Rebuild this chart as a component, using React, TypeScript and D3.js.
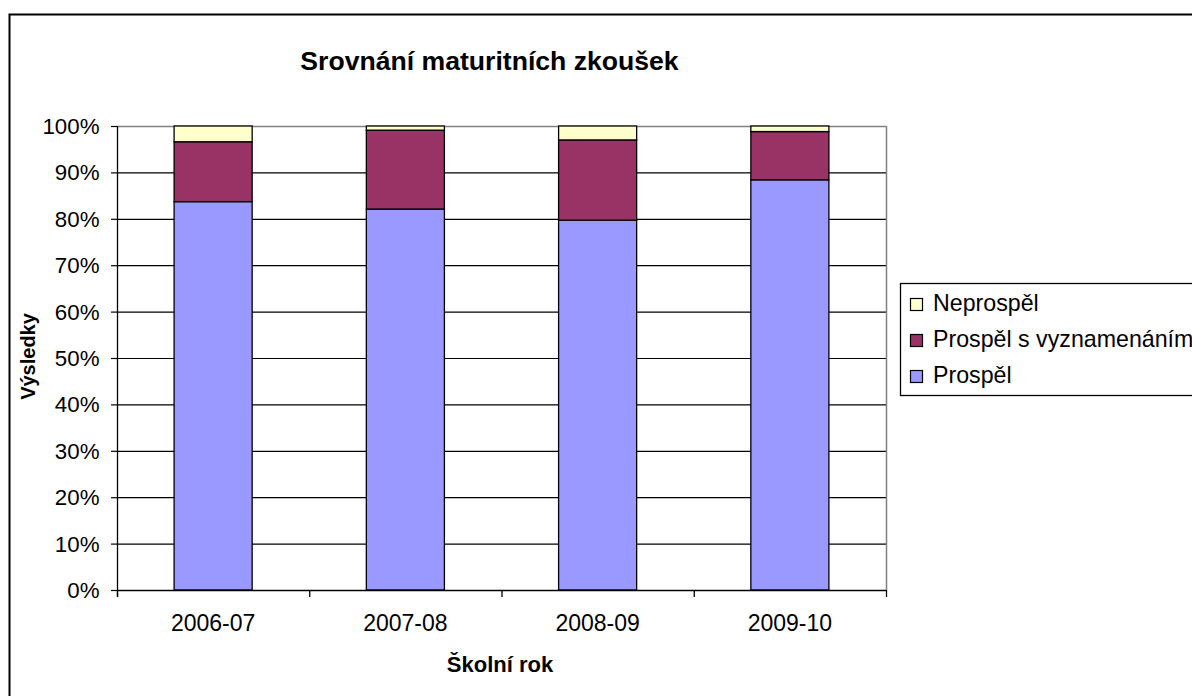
import React from "react";
import * as d3 from "d3";

const categories = ["2006-07", "2007-08", "2008-09", "2009-10"];
const prospel = [83.7, 82.1, 79.7, 88.4];
const vyznamenani = [12.9, 17.0, 17.3, 10.4];
const neprospel = [3.4, 0.9, 3.0, 1.2];
const yTicks = [0, 10, 20, 30, 40, 50, 60, 70, 80, 90, 100];
const seriesNames = ["Prospěl", "Prospěl s vyznamenáním", "Neprospěl"];
const seriesColors = ["#9999ff", "#993366", "#ffffcc"];

export default function App() {
  const W = 1192, H = 696;
  const left = 117, right = 886, top = 126, bottom = 590;
  const font = "'Liberation Sans', Arial, sans-serif";
  const x = d3.scaleBand().domain(categories).range([left, right]).paddingInner(0.594).paddingOuter(0.297);
  const y = d3.scaleLinear().domain([0, 100]).range([bottom, top]);
  const rows = categories.map((c, i) => ({ cat: c, p: prospel[i], v: vyznamenani[i], n: neprospel[i] }));
  const stack = d3.stack<any>().keys(["p", "v", "n"])(rows);
  const legendOrder = [2, 1, 0];
  return (
    <svg width={W} height={H} style={{ position: "absolute", left: 0, top: 0, background: "#fff" }}>
      <rect x={9.5} y={14.5} width={W + 20} height={H + 20} fill="#fff" stroke="#000" strokeWidth={2} />
      <text x={489.5} y={70} textAnchor="middle" fontFamily={font} fontWeight="bold" fontSize={26.6}>Srovnání maturitních zkoušek</text>
      {yTicks.map((t) => (
        <g key={t}>
          {t > 0 && t < 100 && <line x1={left} x2={right} y1={y(t) + 0.5} y2={y(t) + 0.5} stroke="#000" strokeWidth={1.2} />}
          <line x1={left - 6} x2={left} y1={y(t) + 0.5} y2={y(t) + 0.5} stroke="#000" strokeWidth={1.2} />
          <text x={99.5} y={y(t) + 8} textAnchor="end" fontFamily={font} fontSize={22.3}>{t}%</text>
        </g>
      ))}
      <line x1={left} x2={right} y1={top + 0.5} y2={top + 0.5} stroke="#808080" strokeWidth={1.5} />
      <line x1={right + 0.5} x2={right + 0.5} y1={top} y2={bottom} stroke="#808080" strokeWidth={1.5} />
      {stack.map((s, si) => (
        <g key={si}>
          {s.map((d, i) => (
            <rect key={i} x={x(categories[i])!} y={y(d[1])} width={x.bandwidth()} height={y(d[0]) - y(d[1])}
              fill={seriesColors[si]} stroke="#000" strokeWidth={1.3} />
          ))}
        </g>
      ))}
      <line x1={left + 0.5} x2={left + 0.5} y1={top} y2={bottom + 7} stroke="#000" strokeWidth={1.3} />
      <line x1={left} x2={right} y1={bottom + 0.5} y2={bottom + 0.5} stroke="#000" strokeWidth={1.3} />
      {[...categories.map((c) => x(c)! - (x.step() - x.bandwidth()) / 2), right].map((v, i) => (
        <line key={i} x1={v + 0.5} x2={v + 0.5} y1={bottom} y2={bottom + 7} stroke="#000" strokeWidth={1.3} />
      ))}
      {categories.map((c) => (
        <text key={c} x={x(c)! + x.bandwidth() / 2} y={631} textAnchor="middle" fontFamily={font} fontSize={23}>{c}</text>
      ))}
      <text x={500} y={672} textAnchor="middle" fontFamily={font} fontWeight="bold" fontSize={22}>Školní rok</text>
      <text transform="translate(35,356.5) rotate(-90)" textAnchor="middle" fontFamily={font} fontWeight="bold" fontSize={20}>Výsledky</text>
      <rect x={900.5} y={283.5} width={320} height={112} fill="#fff" stroke="#000" strokeWidth={1.3} />
      {legendOrder.map((si, k) => (
        <g key={si}>
          <rect x={910.5} y={298.5 + k * 36} width={12} height={12} fill={seriesColors[si]} stroke="#000" strokeWidth={1.2} />
          <text x={933} y={311 + k * 36} fontFamily={font} fontSize={23.2}>{seriesNames[si]}</text>
        </g>
      ))}
    </svg>
  );
}
